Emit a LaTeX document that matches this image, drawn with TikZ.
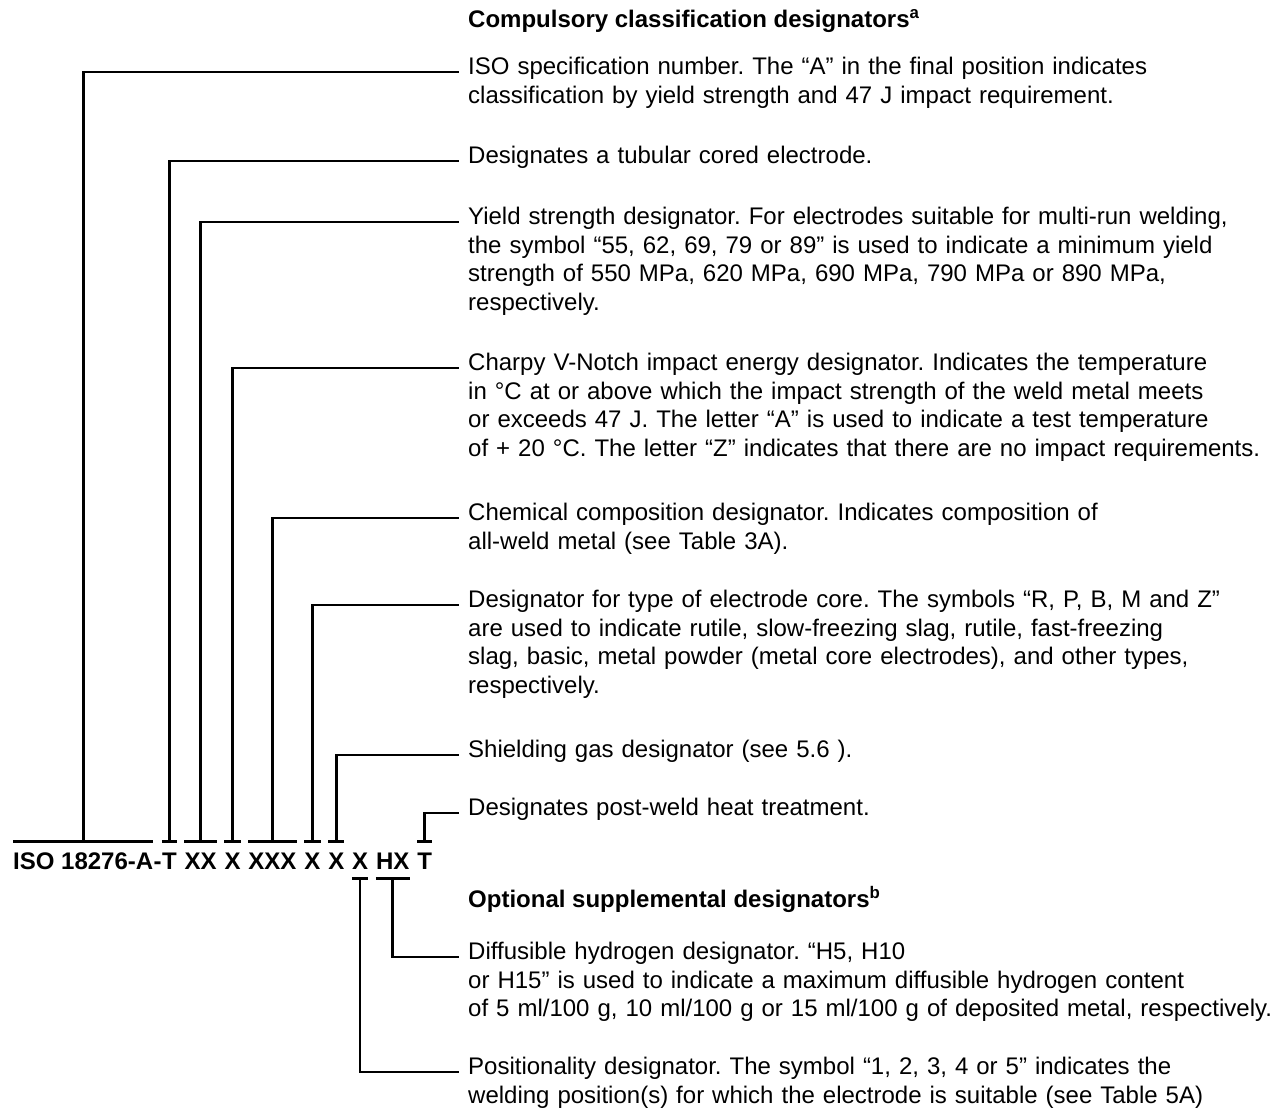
\documentclass[tikz,border=0pt]{standalone}
\usepackage{fontspec}
\setmainfont{Liberation Sans}
\frenchspacing
\usetikzlibrary{positioning}
\tikzset
{
	descnode/.style = {anchor=mid west, inner xsep=9pt, inner ysep=0pt, text width=840pt, align=left, font=\fontsize{24}{28.5}\selectfont},
	headnode/.style = {anchor=mid west, inner xsep=9pt, inner ysep=0pt, font=\fontsize{24}{28.5}\selectfont\bfseries},
	codenode/.style = {inner xsep=0pt, inner ysep=9pt, text height=18pt, text depth=0pt, font=\fontsize{24}{28.5}\selectfont\bfseries},
	bar/.style      = {line width=3pt},
	leader/.style   = {line width=2.6pt}
}

\begin{document}
\begin{tikzpicture}[x=1pt, y=-1pt]
\useasboundingbox (0,0) rectangle (1285,1118);
% the designation
\node[codenode, anchor=base west] (iso) at (13,869) {ISO 18276-A};
\node[codenode, base right=0pt of iso] (dash) {-};
\node[codenode, base right=0pt of dash] (tub) {T};
\node[codenode, base right=7.5pt of tub] (ys) {XX};
\node[codenode, base right=7.5pt of ys] (cvn) {X};
\node[codenode, base right=7.5pt of cvn] (chem) {XXX};
\node[codenode, base right=7.5pt of chem] (core) {X};
\node[codenode, base right=7.5pt of core] (gas) {X};
\node[codenode, base right=7.5pt of gas] (pos) {X};
\node[codenode, base right=7.5pt of pos] (hyd) {HX};
\node[codenode, base right=7.5pt of hyd] (pwht) {T};

% headings and descriptions
\node[headnode] (hComp) at (459,25) {Compulsory classification designators\textsuperscript{a}};
\node[descnode] (dIso) at (459,72) {ISO specification number. The “A” in the final position indicates\\
classification by yield strength and 47 J impact requirement.};
\node[descnode] (dTub) at (459,161) {Designates a tubular cored electrode.};
\node[descnode] (dYs) at (459,222) {Yield strength designator. For electrodes suitable for multi-run welding,\\
the symbol “55, 62, 69, 79 or 89” is used to indicate a minimum yield\\
strength of 550 MPa, 620 MPa, 690 MPa, 790 MPa or 890 MPa,\\
respectively.};
\node[descnode] (dCvn) at (459,368) {Charpy V-Notch impact energy designator. Indicates the temperature\\
in °C at or above which the impact strength of the weld metal meets\\
or exceeds 47 J. The letter “A” is used to indicate a test temperature\\
of + 20 °C. The letter “Z” indicates that there are no impact requirements.};
\node[descnode] (dChem) at (459,518) {Chemical composition designator. Indicates composition of\\
all-weld metal (see Table 3A).};
\node[descnode] (dCore) at (459,605) {Designator for type of electrode core. The symbols “R, P, B, M and Z”\\
are used to indicate rutile, slow-freezing slag, rutile, fast-freezing\\
slag, basic, metal powder (metal core electrodes), and other types,\\
respectively.};
\node[descnode] (dGas) at (459,755) {Shielding gas designator (see 5.6 ).};
\node[descnode] (dPwht) at (459,813) {Designates post-weld heat treatment.};
\node[headnode] (hOpt) at (459,905) {Optional supplemental designators\textsuperscript{b}};
\node[descnode] (dHyd) at (459,957) {Diffusible hydrogen designator. “H5, H10\\
or H15” is used to indicate a maximum diffusible hydrogen content\\
of 5 ml/100 g, 10 ml/100 g or 15 ml/100 g of deposited metal, respectively.};
\node[descnode] (dPos) at (459,1072) {Positionality designator. The symbol “1, 2, 3, 4 or 5” indicates the\\
welding position(s) for which the electrode is suitable (see Table 5A)};

% brackets
\draw[bar] (iso.north west) -- (iso.north east);
\draw[bar] (tub.north west) -- (tub.north east);
\draw[bar] (ys.north west) -- (ys.north east);
\draw[bar] (cvn.north west) -- (cvn.north east);
\draw[bar] (chem.north west) -- (chem.north east);
\draw[bar] (core.north west) -- (core.north east);
\draw[bar] (gas.north west) -- (gas.north east);
\draw[bar] (pwht.north west) -- (pwht.north east);
\draw[bar] (pos.south west) -- (pos.south east);
\draw[bar] (hyd.south west) -- (hyd.south east);

% leaders
\draw[leader] (iso.north) |- (dIso.mid west);
\draw[leader] (tub.north) |- (dTub.mid west);
\draw[leader] (ys.north) |- (dYs.mid west);
\draw[leader] (cvn.north) |- (dCvn.mid west);
\draw[leader] (chem.north) |- (dChem.mid west);
\draw[leader] (core.north) |- (dCore.mid west);
\draw[leader] (gas.north) |- (dGas.mid west);
\draw[leader] (pwht.north) |- (dPwht.mid west);
\draw[leader] (pos.south) |- (dPos.mid west);
\draw[leader] (hyd.south) |- (dHyd.mid west);
\end{tikzpicture}
\end{document}
